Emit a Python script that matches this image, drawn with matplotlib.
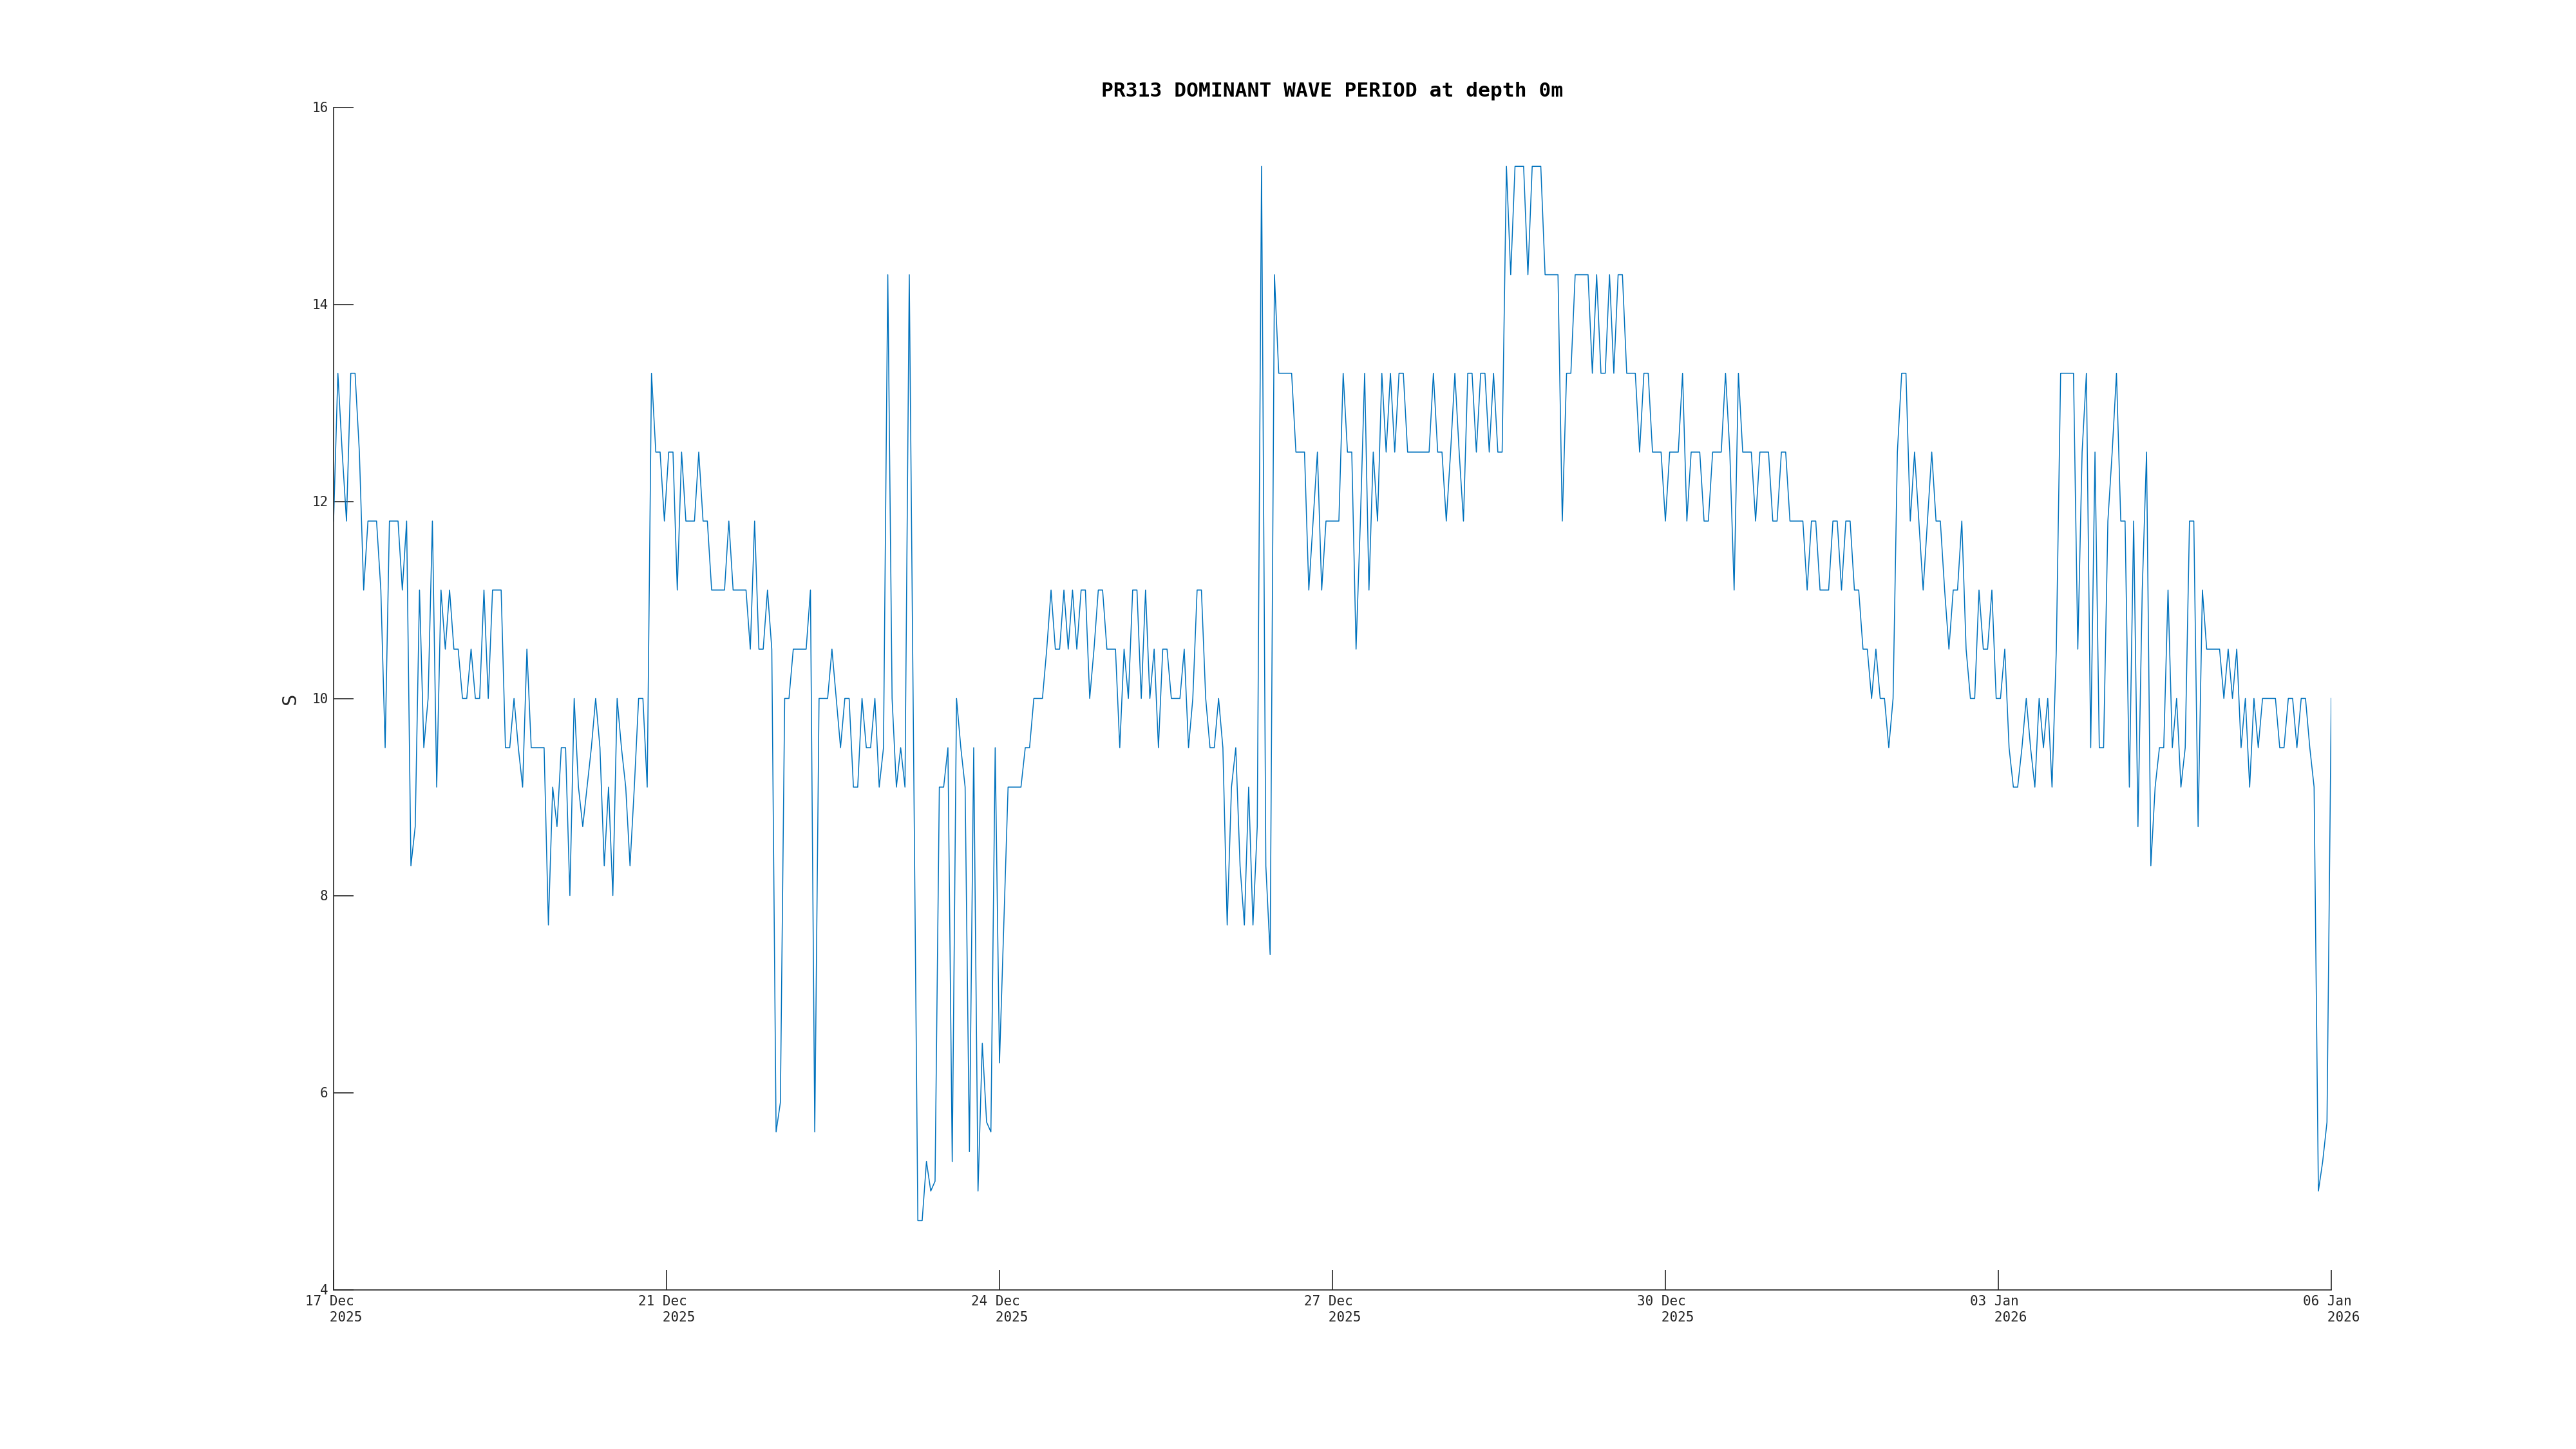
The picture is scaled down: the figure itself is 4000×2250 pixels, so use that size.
import numpy as np
import matplotlib.pyplot as plt

# hourly dominant wave period (s)
period = [
    11.8, 13.3, 12.5, 11.8, 13.3, 13.3, 12.5, 11.1, 11.8, 11.8, 11.8, 11.1, 9.5, 11.8, 11.8, 11.8,
    11.1, 11.8, 8.3, 8.7, 11.1, 9.5, 10.0, 11.8, 9.1, 11.1, 10.5, 11.1, 10.5, 10.5, 10.0, 10.0,
    10.5, 10.0, 10.0, 11.1, 10.0, 11.1, 11.1, 11.1, 9.5, 9.5, 10.0, 9.5, 9.1, 10.5, 9.5, 9.5,
    9.5, 9.5, 7.7, 9.1, 8.7, 9.5, 9.5, 8.0, 10.0, 9.1, 8.7, 9.1, 9.5, 10.0, 9.5, 8.3,
    9.1, 8.0, 10.0, 9.5, 9.1, 8.3, 9.1, 10.0, 10.0, 9.1, 13.3, 12.5, 12.5, 11.8, 12.5, 12.5,
    11.1, 12.5, 11.8, 11.8, 11.8, 12.5, 11.8, 11.8, 11.1, 11.1, 11.1, 11.1, 11.8, 11.1, 11.1, 11.1,
    11.1, 10.5, 11.8, 10.5, 10.5, 11.1, 10.5, 5.6, 5.9, 10.0, 10.0, 10.5, 10.5, 10.5, 10.5, 11.1,
    5.6, 10.0, 10.0, 10.0, 10.5, 10.0, 9.5, 10.0, 10.0, 9.1, 9.1, 10.0, 9.5, 9.5, 10.0, 9.1,
    9.5, 14.3, 10.0, 9.1, 9.5, 9.1, 14.3, 9.5, 4.7, 4.7, 5.3, 5.0, 5.1, 9.1, 9.1, 9.5,
    5.3, 10.0, 9.5, 9.1, 5.4, 9.5, 5.0, 6.5, 5.7, 5.6, 9.5, 6.3, 7.7, 9.1, 9.1, 9.1,
    9.1, 9.5, 9.5, 10.0, 10.0, 10.0, 10.5, 11.1, 10.5, 10.5, 11.1, 10.5, 11.1, 10.5, 11.1, 11.1,
    10.0, 10.5, 11.1, 11.1, 10.5, 10.5, 10.5, 9.5, 10.5, 10.0, 11.1, 11.1, 10.0, 11.1, 10.0, 10.5,
    9.5, 10.5, 10.5, 10.0, 10.0, 10.0, 10.5, 9.5, 10.0, 11.1, 11.1, 10.0, 9.5, 9.5, 10.0, 9.5,
    7.7, 9.1, 9.5, 8.3, 7.7, 9.1, 7.7, 8.7, 15.4, 8.3, 7.4, 14.3, 13.3, 13.3, 13.3, 13.3,
    12.5, 12.5, 12.5, 11.1, 11.8, 12.5, 11.1, 11.8, 11.8, 11.8, 11.8, 13.3, 12.5, 12.5, 10.5, 11.8,
    13.3, 11.1, 12.5, 11.8, 13.3, 12.5, 13.3, 12.5, 13.3, 13.3, 12.5, 12.5, 12.5, 12.5, 12.5, 12.5,
    13.3, 12.5, 12.5, 11.8, 12.5, 13.3, 12.5, 11.8, 13.3, 13.3, 12.5, 13.3, 13.3, 12.5, 13.3, 12.5,
    12.5, 15.4, 14.3, 15.4, 15.4, 15.4, 14.3, 15.4, 15.4, 15.4, 14.3, 14.3, 14.3, 14.3, 11.8, 13.3,
    13.3, 14.3, 14.3, 14.3, 14.3, 13.3, 14.3, 13.3, 13.3, 14.3, 13.3, 14.3, 14.3, 13.3, 13.3, 13.3,
    12.5, 13.3, 13.3, 12.5, 12.5, 12.5, 11.8, 12.5, 12.5, 12.5, 13.3, 11.8, 12.5, 12.5, 12.5, 11.8,
    11.8, 12.5, 12.5, 12.5, 13.3, 12.5, 11.1, 13.3, 12.5, 12.5, 12.5, 11.8, 12.5, 12.5, 12.5, 11.8,
    11.8, 12.5, 12.5, 11.8, 11.8, 11.8, 11.8, 11.1, 11.8, 11.8, 11.1, 11.1, 11.1, 11.8, 11.8, 11.1,
    11.8, 11.8, 11.1, 11.1, 10.5, 10.5, 10.0, 10.5, 10.0, 10.0, 9.5, 10.0, 12.5, 13.3, 13.3, 11.8,
    12.5, 11.8, 11.1, 11.8, 12.5, 11.8, 11.8, 11.1, 10.5, 11.1, 11.1, 11.8, 10.5, 10.0, 10.0, 11.1,
    10.5, 10.5, 11.1, 10.0, 10.0, 10.5, 9.5, 9.1, 9.1, 9.5, 10.0, 9.5, 9.1, 10.0, 9.5, 10.0,
    9.1, 10.5, 13.3, 13.3, 13.3, 13.3, 10.5, 12.5, 13.3, 9.5, 12.5, 9.5, 9.5, 11.8, 12.5, 13.3,
    11.8, 11.8, 9.1, 11.8, 8.7, 11.1, 12.5, 8.3, 9.1, 9.5, 9.5, 11.1, 9.5, 10.0, 9.1, 9.5,
    11.8, 11.8, 8.7, 11.1, 10.5, 10.5, 10.5, 10.5, 10.0, 10.5, 10.0, 10.5, 9.5, 10.0, 9.1, 10.0,
    9.5, 10.0, 10.0, 10.0, 10.0, 9.5, 9.5, 10.0, 10.0, 9.5, 10.0, 10.0, 9.5, 9.1, 5.0, 5.3,
    5.7, 10.0,
]
tick_labels = ['17 Dec', '21 Dec', '24 Dec', '27 Dec', '30 Dec', '03 Jan', '06 Jan']
tick_years = ['2025', '2025', '2025', '2025', '2025', '2026', '2026']
y_ticks = [4, 6, 8, 10, 12, 14, 16]

hours = np.arange(len(period))
ink = '#262626'

plt.rcParams['font.family'] = 'DejaVu Sans Mono'
fig = plt.figure(figsize=(40, 22.5), dpi=100)
ax = fig.add_axes([0.1295, 0.110, 0.7755, 0.816])

ax.plot(hours, period, color='#0072BD', lw=1.1)

ax.set_xlim(hours[0], hours[-1])
ax.set_ylim(4, 16)
ax.set_yticks(y_ticks)
ax.set_yticklabels([str(v) for v in y_ticks])
ax.set_xticks(np.linspace(hours[0], hours[-1], len(tick_labels)))
ax.set_xticklabels([d + '\n   ' + y for d, y in zip(tick_labels, tick_years)],
                   ha='center', multialignment='left', linespacing=1.35)

for side in ['top', 'right']:
    ax.spines[side].set_visible(False)
for side in ['left', 'bottom']:
    ax.spines[side].set_color(ink)
    ax.spines[side].set_linewidth(1.2)
ax.tick_params(direction='in', length=22, width=1.2, colors=ink, labelsize=15, pad=6)

ax.set_ylabel('S', fontsize=22, color=ink, labelpad=14)
ax.set_title('PR313 DOMINANT WAVE PERIOD at depth 0m', fontsize=22.5, fontweight='bold',
             color='black', pad=12)

fig.savefig('out.png', dpi=100)
